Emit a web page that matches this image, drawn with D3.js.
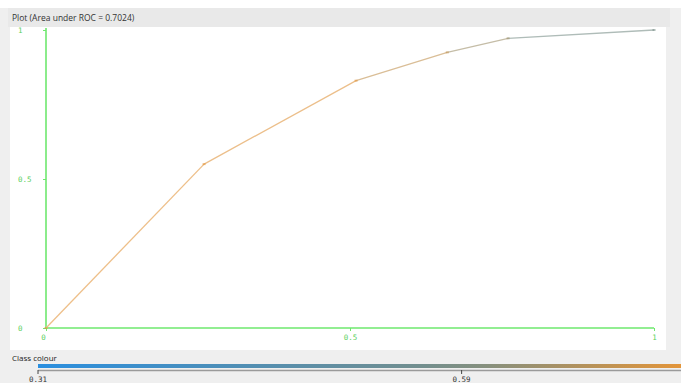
<!DOCTYPE html>
<html>
<head>
<meta charset="utf-8">
<script src="https://cdn.jsdelivr.net/npm/d3@7"></script>
<style>
  html, body { margin: 0; padding: 0; background: #ffffff; }
  svg { display: block; }
</style>
</head>
<body>
<svg id="chart" width="681" height="383"></svg>
<script>
// ROC curve points: false positive rate, true positive rate, threshold
const fpr = [0, 0.26, 0.51, 0.66, 0.76, 1];
const tpr = [0, 0.55, 0.83, 0.925, 0.972, 1];
const thresholds = [0.735, 0.735, 0.73, 0.69, 0.64, 0.585];
const auc = 0.7024;

// axis ticks
const xTicks = [0, 0.5, 1];
const yTicks = [0, 0.5, 1];
const xTickLabels = ["0", "0.5", "1"];
const yTickLabels = ["0", "0.5", "1"];

// class colour bar
const classRange = [0.31, 0.735];
const classTicks = [0.31, 0.59];
const classTickLabels = ["0.31", "0.59"];

const svg = d3.select("#chart");
const W = 681, H = 383;

// panels
svg.append("rect").attr("x", 0).attr("y", 8).attr("width", W).attr("height", H - 8).attr("fill", "#efefef");
svg.append("rect").attr("x", 8).attr("y", 8).attr("width", 662).attr("height", 19).attr("fill", "#e9e9e9");
svg.append("rect").attr("x", 10).attr("y", 27).attr("width", 656).attr("height", 323).attr("fill", "#ffffff");

svg.append("text")
  .attr("x", 12).attr("y", 21)
  .attr("font-family", "Open Sans, DejaVu Sans, sans-serif")
  .attr("font-size", 8.5)
  .attr("fill", "#333")
  .text(`Plot (Area under ROC = ${auc})`);

const x = d3.scaleLinear().domain([0, 1]).range([46, 654]);
const y = d3.scaleLinear().domain([0, 1]).range([328, 30]);

const green = "#6ee86e";

// axes
const xAxis = d3.axisBottom(x).tickValues(xTicks).tickSize(3)
  .tickFormat((d, i) => xTickLabels[i]);
const yAxis = d3.axisLeft(y).tickValues(yTicks).tickSize(3)
  .tickFormat((d, i) => yTickLabels[i]);

const gx = svg.append("g").attr("transform", `translate(0,${y(0)})`).call(xAxis);
const gy = svg.append("g").attr("transform", `translate(${x(0)},0)`).call(yAxis);

[gx, gy].forEach(g => {
  g.select(".domain").attr("stroke", green).attr("stroke-width", 1.6);
  g.selectAll(".tick line").attr("stroke", green).attr("stroke-width", 1);
  g.selectAll(".tick text")
    .attr("fill", "#5ccf5c")
    .attr("font-family", "DejaVu Sans Mono, monospace")
    .attr("font-size", 7.5);
});
gx.select(".domain").attr("d", `M${x(0)},0H${x(1)}`);
gy.select(".domain").attr("d", `M0,${y(0)}V${y(1) - 2}`);
gx.selectAll(".tick text").attr("dy", "0.75em");
gx.selectAll(".tick").filter((d, i) => i === 0).select("text").attr("dx", -3);
gy.selectAll(".tick text").attr("text-anchor", "start").attr("x", -28);

// colour scale for thresholds
const classColour = d3.scaleLinear()
  .domain([classRange[0], classTicks[1], classRange[1]])
  .range(["#2a8fe0", "#7a8f86", "#e3953a"])
  .interpolate(d3.interpolateRgb);

const lineColour = d => d3.interpolateRgb(classColour(d), "#ffffff")(0.4);

// curve segments, coloured by threshold
const pts = fpr.map((f, i) => ({ f, t: tpr[i], th: thresholds[i] }));
const segs = d3.pairs(pts);
svg.append("g").selectAll("line")
  .data(segs)
  .join("line")
  .attr("x1", d => x(d[0].f)).attr("y1", d => y(d[0].t))
  .attr("x2", d => x(d[1].f)).attr("y2", d => y(d[1].t))
  .attr("stroke", d => lineColour(d[1].th))
  .attr("stroke-width", 1.3);

svg.append("g").selectAll("rect")
  .data(pts)
  .join("rect")
  .attr("x", d => x(d.f) - 1.5).attr("y", d => y(d.t) - 1)
  .attr("width", 3).attr("height", 2)
  .attr("fill", d => classColour(d.th))
  .attr("opacity", 0.6);

// class colour legend
svg.append("text")
  .attr("x", 12).attr("y", 361)
  .attr("font-family", "Open Sans, DejaVu Sans, sans-serif")
  .attr("font-size", 8)
  .attr("fill", "#222")
  .text("Class colour");

const cx = d3.scaleLinear().domain(classRange).range([38, 681]);
const defs = svg.append("defs");
const grad = defs.append("linearGradient").attr("id", "cc")
  .attr("gradientUnits", "userSpaceOnUse")
  .attr("x1", cx(classRange[0])).attr("x2", cx(classRange[1]))
  .attr("y1", 0).attr("y2", 0);
d3.range(0, 1.0001, 0.1).forEach(p => {
  const v = classRange[0] + p * (classRange[1] - classRange[0]);
  grad.append("stop").attr("offset", p).attr("stop-color", classColour(v));
});
svg.append("rect")
  .attr("x", cx(classRange[0])).attr("y", 364)
  .attr("width", cx(classRange[1]) - cx(classRange[0])).attr("height", 4)
  .attr("fill", "url(#cc)");
svg.append("line")
  .attr("x1", cx(classRange[0])).attr("x2", cx(classRange[1]))
  .attr("y1", 370.5).attr("y2", 370.5)
  .attr("stroke", "#9a9a9a").attr("stroke-width", 1.5);

const cAxis = svg.append("g");
cAxis.selectAll("line").data(classTicks).join("line")
  .attr("x1", d => cx(d)).attr("x2", d => cx(d))
  .attr("y1", 370).attr("y2", 374)
  .attr("stroke", "#444").attr("stroke-width", 1);
cAxis.selectAll("text").data(classTicks).join("text")
  .attr("x", d => cx(d)).attr("y", 382)
  .attr("text-anchor", "middle")
  .attr("font-family", "DejaVu Sans Mono, monospace")
  .attr("font-size", 7.5)
  .attr("fill", "#333")
  .text((d, i) => classTickLabels[i]);
</script>
</body>
</html>
